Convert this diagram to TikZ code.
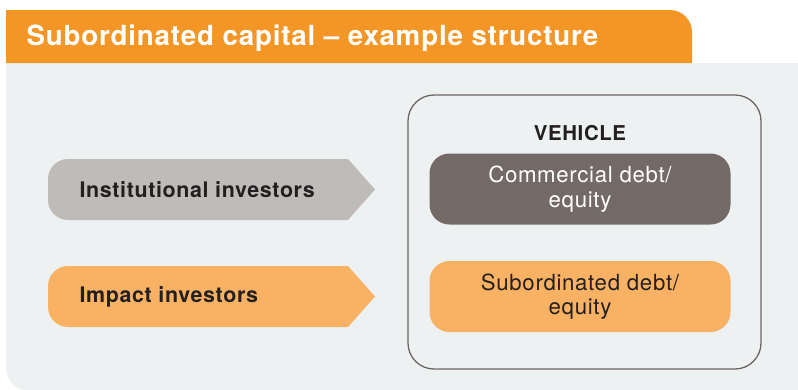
\documentclass[tikz,border=0pt]{standalone}
\usepackage{fontspec}
\setmainfont{TeX Gyre Heros}[LetterSpace=3]
\usetikzlibrary{positioning}

\definecolor{hdrorange}{HTML}{F39626}
\definecolor{panelgrey}{HTML}{EDF1F2}
\definecolor{investgrey}{HTML}{BFBBB9}
\definecolor{investorange}{HTML}{F9B264}
\definecolor{commgrey}{HTML}{736A67}
\definecolor{vehline}{HTML}{6E6664}
\definecolor{inktext}{HTML}{231F20}

\tikzset{
    investor/.style={anchor=west, text=inktext, font=\fontsize{21.5}{24}\selectfont\bfseries},
    fund/.style={rounded corners=20bp, minimum width=301bp, minimum height=71bp,
        align=center, font=\fontsize{22.3}{24.5}\selectfont},
}

\begin{document}
\begin{tikzpicture}[x=1bp, y=-1bp]
    \useasboundingbox (0,0) rectangle (798,389);
    \clip (0,0) rectangle (798,389);
    % panel and header
    \fill[panelgrey] (798,63) -- (6,63) [rounded corners=25bp] -- (6,392) [sharp corners] -- (798,392) -- cycle;
    \fill[hdrorange] (6,63) -- (6,10) [rounded corners=22bp] -- (692,10) [sharp corners] -- (692,63) -- cycle;
    \node[anchor=west, text=white, font=\fontsize{27.8}{30}\selectfont\bfseries] (title) at (23,38) {Subordinated capital -- example structure};

    % investors
    \foreach \y/\name/\lbl/\col in {159/inst/Institutional investors/investgrey, 266/impact/Impact investors/investorange} {
        \fill[\col] (348,\y) -- (375,\y+30.5) -- (348,\y+61) [rounded corners=20bp] -- (48,\y+61) -- (48,\y) [sharp corners] -- cycle;
        \node[investor] (\name) at (76,\y+30.5) {\lbl};
    };

    % vehicle
    \node[draw=vehline, line width=1.3bp, rounded corners=26bp, minimum width=353bp, minimum height=274bp] (vehicle) at (584.5,232) {};
    \node[fill=commgrey, text=white, fund] (commercial) at (580,189) {Commercial debt/\\equity};
    \node[fill=investorange, text=inktext, fund] (subordinated) at (580,296.5) {Subordinated debt/\\equity};
    \node[above=9bp of commercial, text=inktext, font=\fontsize{20.5}{22}\selectfont\bfseries] (vehlabel) {VEHICLE};
\end{tikzpicture}
\end{document}
